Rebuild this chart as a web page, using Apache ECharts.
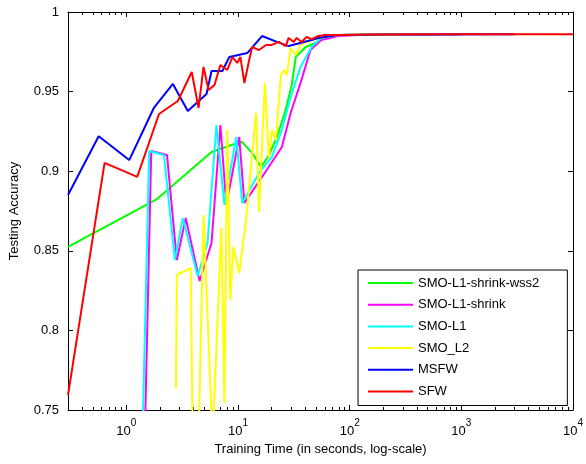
<!DOCTYPE html>
<html>
<head>
<meta charset="utf-8">
<script src="https://cdn.jsdelivr.net/npm/echarts@6/dist/echarts.min.js"></script>
<style>
html,body{margin:0;padding:0;background:#fff;}
#chart{width:586px;height:464px;}
</style>
</head>
<body>
<div id="chart"></div>
<script>
// ---- Data (training time in seconds, testing accuracy) ----
const wss2Time = [0.3, 1.88, 5.79, 9.25, 10.9, 13.4, 16.1, 18.9, 22.3, 26.7, 30.2, 32.9, 40.3, 49.3, 60.5, 78.9, 200, 1000];
const wss2Acc  = [0.8524, 0.8825, 0.9121, 0.9171, 0.9183, 0.9114, 0.9026, 0.910, 0.9215, 0.9384, 0.954, 0.9717, 0.978, 0.9805, 0.9837, 0.9856, 0.9858, 0.986];

const shrinkTime = [1.47, 1.67, 2.31, 2.83, 3.40, 4.53, 5.79, 6.95, 7.86, 10.25, 11.4, 16.4, 24.7, 29.6, 36.3, 44.5, 55.7, 78.9, 118.7, 1000];
const shrinkAcc  = [0.74, 0.9127, 0.9102, 0.8442, 0.8706, 0.831, 0.8549, 0.929, 0.8788, 0.9215, 0.880, 0.8964, 0.9152, 0.9366, 0.9554, 0.9761, 0.9824, 0.9849, 0.9856, 0.986];

const l1Time = [1.40, 1.60, 2.17, 2.72, 3.20, 4.35, 5.33, 6.41, 7.55, 9.64, 10.9, 15.4, 20.1, 24.7, 29.6, 36.3, 45.5, 55.7, 78.9, 1000];
const l1Acc  = [0.74, 0.9127, 0.9102, 0.8442, 0.8706, 0.8342, 0.8549, 0.929, 0.8788, 0.9215, 0.880, 0.8989, 0.9089, 0.9259, 0.9466, 0.9655, 0.978, 0.9837, 0.9856, 0.986];

const l2Time = [2.78, 2.83, 3.77, 3.93, 4.43, 4.91, 5.91, 7.10, 7.55, 8.02, 8.53, 9.07, 10.25, 11.8, 14.5, 15.4, 17.4, 18.9, 20.1, 21.8, 24.2, 25.7, 27.3, 29.6, 32.9, 36.3, 41.1, 52.5, 78.9, 608];
const l2Acc  = [0.7638, 0.8348, 0.8392, 0.731, 0.731, 0.8725, 0.731, 0.8643, 0.7544, 0.9259, 0.8191, 0.8524, 0.836, 0.8693, 0.9366, 0.8744, 0.9554, 0.9083, 0.9259, 0.9196, 0.9604, 0.9636, 0.9604, 0.9774, 0.973, 0.9793, 0.9812, 0.9837, 0.9856, 0.9862];

const msfwTime = [0.3, 0.565, 1.06, 1.77, 2.61, 3.55, 5.22, 5.79, 7.24, 8.36, 12.1, 16.4, 22.3, 28.4, 45.5, 52.5, 78.9, 200, 3000];
const msfwAcc  = [0.885, 0.922, 0.907, 0.940, 0.9548, 0.9378, 0.9485, 0.9629, 0.9629, 0.9717, 0.9742, 0.9849, 0.9812, 0.9786, 0.9824, 0.9837, 0.9856, 0.9858, 0.986];

const sfwTime = [0.3, 0.638, 1.25, 1.96, 2.89, 3.85, 4.43, 4.91, 5.44, 6.15, 6.95, 8.02, 8.89, 9.84, 10.5, 11.4, 12.6, 13.4, 15.4, 17.8, 20.1, 23.2, 26.7, 28.4, 31.5, 33.5, 37.1, 41.1, 45.5, 52.5, 60.5, 78.9, 150, 1000, 10000];
const sfwAcc  = [0.7594, 0.9052, 0.8964, 0.9359, 0.9441, 0.9623, 0.9397, 0.9655, 0.951, 0.9541, 0.9667, 0.9636, 0.9717, 0.968, 0.9717, 0.9554, 0.970, 0.978, 0.9761, 0.9793, 0.9793, 0.9812, 0.9786, 0.9837, 0.9812, 0.9837, 0.9812, 0.9843, 0.983, 0.9849, 0.9856, 0.9856, 0.9858, 0.986, 0.986];

const seriesNames = ['SMO-L1-shrink-wss2', 'SMO-L1-shrink', 'SMO-L1', 'SMO_L2', 'MSFW', 'SFW'];
const seriesColors = ['#00ff00', '#ff00ff', '#00ffff', '#ffff00', '#0000ff', '#ff0000'];
const seriesTimes = [wss2Time, shrinkTime, l1Time, l2Time, msfwTime, sfwTime];
const seriesAccs = [wss2Acc, shrinkAcc, l1Acc, l2Acc, msfwAcc, sfwAcc];

const majorTicks = [1, 10, 100, 1000, 10000];
const majorExp = ['0', '1', '2', '3', '4'];
const minorTicks = [];
[0.1, 1, 10, 100, 1000].forEach(function (d) {
  for (let k = 2; k <= 9; k++) { const v = +(d * k).toPrecision(3); if (v >= 0.3) minorTicks.push(v); }
});

const FONT = 'Liberation Sans, Arial, sans-serif';

const chart = echarts.init(document.getElementById('chart'), null, {renderer: 'canvas'});

function xAx(opts) {
  return Object.assign({
    type: 'log', logBase: 10, min: 0.3, max: 10000,
    splitLine: {show: false},
    axisLine: {show: false},
    axisLabel: {show: false},
    axisTick: {show: false}
  }, opts);
}

const option = {
  animation: false,
  backgroundColor: '#ffffff',
  grid: {left: 68, right: 9, top: 12, bottom: 54, containLabel: false},
  xAxis: [
    xAx({
      position: 'bottom',
      axisLine: {show: true, onZero: false, lineStyle: {color: '#000', width: 1}},
      axisTick: {show: true, inside: true, length: 5, customValues: majorTicks, lineStyle: {color: '#000'}},
      axisLabel: {
        show: true, margin: 8, customValues: majorTicks,
        formatter: function (v) {
          const i = majorTicks.indexOf(Math.round(v * 1000) / 1000);
          const e = i >= 0 ? majorExp[i] : String(Math.round(Math.log10(v)));
          return '{b|10}{s|' + e + '}';
        },
        rich: {
          b: {fontFamily: FONT, fontSize: 13, color: '#000', lineHeight: 20, verticalAlign: 'bottom'},
          s: {fontFamily: FONT, fontSize: 10, color: '#000', lineHeight: 12, verticalAlign: 'top'}
        }
      },
      name: 'Training Time (in seconds, log-scale)',
      nameLocation: 'middle', nameGap: 31,
      nameTextStyle: {fontFamily: FONT, fontSize: 13, color: '#000'}
    }),
    xAx({position: 'bottom', axisTick: {show: true, inside: true, length: 3, customValues: minorTicks, lineStyle: {color: '#000'}}}),
    xAx({position: 'top', axisLine: {show: true, onZero: false, lineStyle: {color: '#000', width: 1}},
      axisTick: {show: true, inside: true, length: 5, customValues: majorTicks, lineStyle: {color: '#000'}}}),
    xAx({position: 'top', axisTick: {show: true, inside: true, length: 3, customValues: minorTicks, lineStyle: {color: '#000'}}})
  ],
  yAxis: [
    {
      type: 'value', min: 0.75, max: 1, interval: 0.05, position: 'left',
      splitLine: {show: false},
      axisLine: {show: true, onZero: false, lineStyle: {color: '#000', width: 1}},
      axisTick: {show: true, inside: true, length: 5, lineStyle: {color: '#000'}},
      axisLabel: {fontFamily: FONT, fontSize: 13, color: '#000', margin: 9,
        formatter: function (v) { return String(+v.toFixed(2)); }},
      name: 'Testing Accuracy', nameLocation: 'middle', nameGap: 47, nameRotate: 90,
      nameTextStyle: {fontFamily: FONT, fontSize: 13, color: '#000'}
    },
    {
      type: 'value', min: 0.75, max: 1, interval: 0.05, position: 'right',
      splitLine: {show: false},
      axisLine: {show: true, onZero: false, lineStyle: {color: '#000', width: 1}},
      axisTick: {show: true, inside: true, length: 5, lineStyle: {color: '#000'}},
      axisLabel: {show: false}
    }
  ],
  legend: {
    orient: 'vertical', left: 358, top: 270,
    padding: [6, 28, 7, 10],
    icon: 'rect',
    itemWidth: 45, itemHeight: 2, itemGap: 7.7,
    borderColor: '#000', borderWidth: 1, backgroundColor: '#fff',
    textStyle: {fontFamily: FONT, fontSize: 13, color: '#000', lineHeight: 14},
    data: seriesNames.map(function (n, i) { return {name: n, icon: 'rect', itemStyle: {color: seriesColors[i]}}; })
  },
  series: seriesNames.map(function (name, i) {
    return {
      name: name, type: 'line', xAxisIndex: 0, yAxisIndex: 0,
      data: seriesTimes[i].map(function (t, j) { return [t, seriesAccs[i][j]]; }),
      symbol: 'none', showSymbol: false, smooth: false, clip: true,
      lineStyle: {color: seriesColors[i], width: 2},
      itemStyle: {color: seriesColors[i]},
      emphasis: {disabled: true}
    };
  })
};
chart.setOption(option);
</script>
</body>
</html>
